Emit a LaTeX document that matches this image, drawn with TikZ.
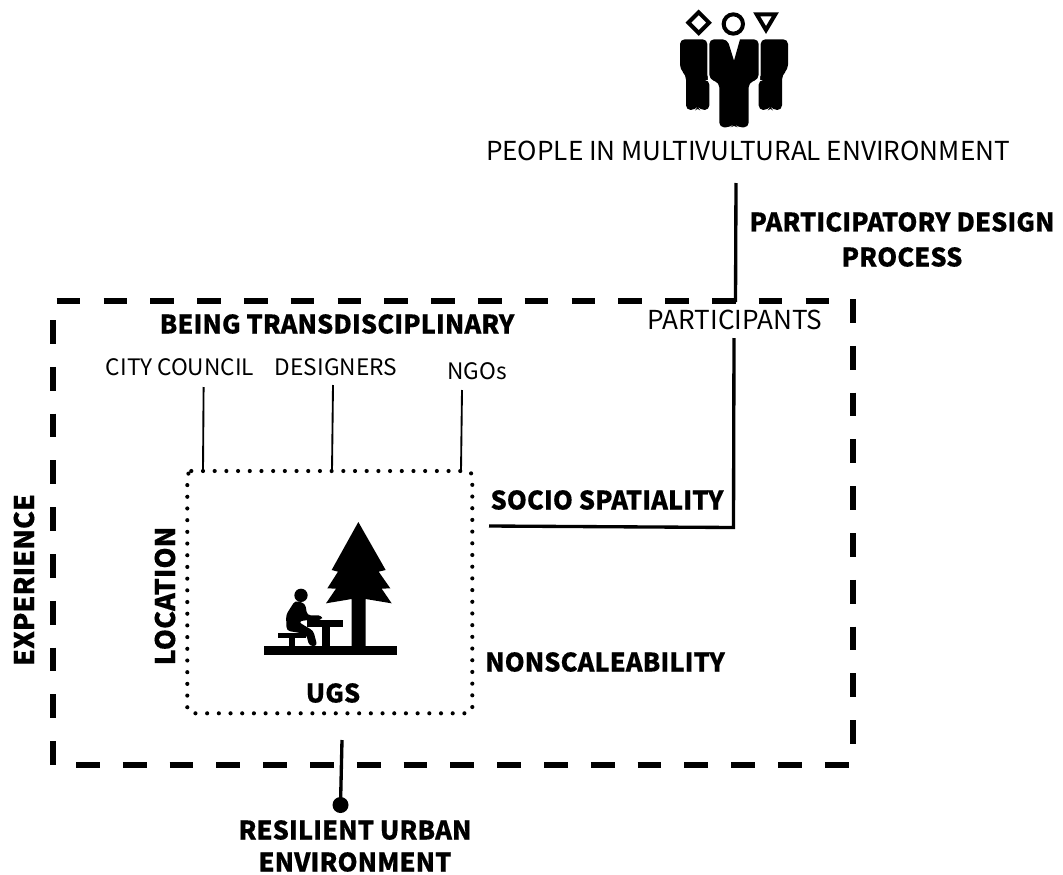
\documentclass[tikz,border=0pt]{standalone}
\usepackage{fontspec}
\setmainfont[BoldFeatures={FakeBold=0.35}]{Noto Sans CJK SC}
\begin{document}
\begin{tikzpicture}[x=0.75pt,y=-0.75pt,
  lbl/.style={inner sep=0pt,font=\fontsize{19.6}{22}\selectfont},
  small/.style={inner sep=0pt,font=\fontsize{17}{20}\selectfont},
  head/.style={inner sep=0pt,font=\fontsize{19.15}{22}\selectfont\bfseries},
  vhead/.style={inner sep=0pt,rotate=90,font=\fontsize{20.3}{22}\selectfont\bfseries},
  heavydash/.style={line width=4.5pt,dash pattern=on 17.8pt off 17.3pt},
  dotline/.style={line width=3.1pt,line cap=round,dash pattern=on 0pt off 8.77pt},
  thinline/.style={line width=1.4pt},
  mainline/.style={line width=2.5pt},
  glyph/.style={fill=black,draw=none},
  ring/.style={draw=black,line width=3pt,fill=white},
]
\useasboundingbox (0,0) rectangle (1063,874);
% labels
\node[lbl] (people) at (748,151) {PEOPLE IN MULTIVULTURAL ENVIRONMENT};
\node[head] (pdp1) at (902,222) {PARTICIPATORY DESIGN};
\node[head] (pdp2) at (902,257) {PROCESS};
\node[head] (being) at (337,324) {BEING TRANSDISCIPLINARY};
\node[small] (city) at (180,367) {CITY COUNCIL};
\node[small] (designers) at (336,367) {DESIGNERS};
\node[small] (ngos) at (477,371) {NGOs};
\node[lbl] (participants) at (735,320) {PARTICIPANTS};
\node[head] (socio) at (607,500) {SOCIO SPATIALITY};
\node[head] (nonscale) at (605,662) {NONSCALEABILITY};
\node[head] (ugs) at (333,693) {UGS};
\node[vhead] (location) at (165,596) {LOCATION};
\node[vhead] (experience) at (24,580) {EXPERIENCE};
\node[head] (res1) at (355,830) {RESILIENT URBAN};
\node[head] (res2) at (355,862) {ENVIRONMENT};
% heavy dashed frame
\coordinate (tl) at (56.7,300.7);
\coordinate (tr) at (830,300.7);
\coordinate (lt) at (52.7,320);
\coordinate (lb) at (52.7,768);
\coordinate (rt) at (852.7,299);
\coordinate (rb) at (852.7,745);
\coordinate (bl) at (76,764.5);
\coordinate (br) at (850,764.5);
\draw[heavydash] (tl) -- (tr);
\draw[heavydash] (lt) -- (lb);
\draw[heavydash] (rt) -- (rb);
\draw[heavydash] (bl) -- (br);
% dotted box
\draw[dotline,rounded corners=4pt] (191.3,471) -- (472.3,471) -- (472.3,713.3) -- (187.3,713.3) -- (187.3,471) -- (191.3,471);
% connectors
\coordinate (boxcity) at (203,471);
\coordinate (boxdes) at (332,471);
\coordinate (boxngo) at (461,471);
\coordinate (citytop) at (203.6,387);
\coordinate (destop) at (333,385);
\coordinate (ngotop) at (462,390);
\draw[thinline] (citytop) -- (boxcity);
\draw[thinline] (destop) -- (boxdes);
\draw[thinline] (ngotop) -- (boxngo);
\coordinate (pa) at (736,183);
\coordinate (pb) at (735.5,302);
\coordinate (pc) at (734,338);
\coordinate (pd) at (733.5,527.5);
\coordinate (pe) at (489,526);
\draw[mainline] (pa) -- (pb);
\draw[mainline] (pc) -- (pd) -- (pe);
\coordinate (ra) at (342,740);
\coordinate (rdot) at (340.5,805);
\draw[mainline] (ra) -- (rdot);
\fill (rdot) circle (8);
% people icon
\begin{scope}[shift={(620,0)},scale=1/3]
 \draw[ring] (236,37)--(267,68)--(236,99)--(205,68)--cycle;
 \draw[ring] (340,72) circle (29);
 \draw[ring] (410,43)--(466,43)--(438,90)--cycle;
 \fill[glyph,rounded corners=3.5pt] (180,118)--(262,118)--(262,240)--(268,240)--(268,330)--(240,330)--(233,320)--(226,330)--(198,330)--(198,225)--(180,208)--cycle;
 \fill[glyph,rounded corners=3.5pt] (504,118)--(422,118)--(422,240)--(416,240)--(416,330)--(444,330)--(451,320)--(458,330)--(486,330)--(486,225)--(504,208)--cycle;
 \filldraw[draw=white,line width=2.2pt,fill=white] (268,118)--(416,118)--(416,238)--(386,248)--(386,382)--(298,382)--(298,248)--(268,238)--cycle;
 \fill[glyph,rounded corners=3.5pt] (268,118)--(322,118)[sharp corners]--(342,182)--(360,118)[rounded corners=3.5pt]--(416,118)--(416,238)--(386,248)--(386,382)--(352,382)--(342,372)--(332,382)--(298,382)--(298,248)--(268,238)--cycle;
\end{scope}
% UGS icon
\begin{scope}[shift={(250,510)},scale=1/3]
 \fill[glyph] (325,36)--(407,180)--(386,185)--(421,235)--(395,236)--(425,280)--(347,267)--(347,410)--(305,410)--(305,267)--(228,280)--(258,236)--(232,235)--(264,185)--(245,180)--cycle;
 \fill[glyph] (42,409) rectangle (440,434);
 \fill[glyph] (170,330) rectangle (280,350);
 \fill[glyph] (216,345) rectangle (240,410);
 \fill[glyph] (83,370) rectangle (168,385);
 \fill[glyph] (116,380) rectangle (136,410);
 \fill[glyph] (153,256) circle (20);
 \fill[glyph,rounded corners=2.5pt] (135,272)--(108,315)--(110,362)--(168,372)--(178,408)--(202,408)--(190,362)--(165,348)--(145,335)--(170,330)--(217,330)--(215,316)--(172,316)--(165,280)--cycle;
\end{scope}
\end{tikzpicture}
\end{document}
